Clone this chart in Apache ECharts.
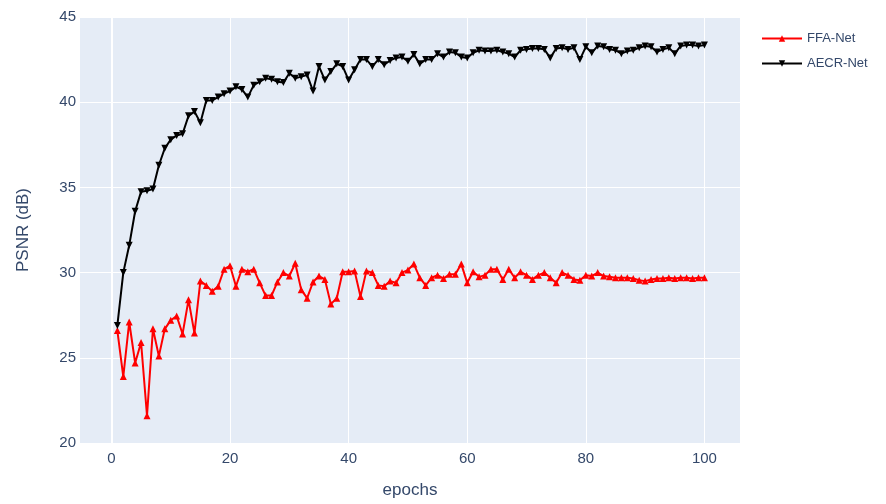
<!DOCTYPE html>
<html>
<head>
<meta charset="utf-8">
<script src="https://cdn.jsdelivr.net/npm/echarts@6/dist/echarts.min.js"></script>
<style>html,body{margin:0;padding:0;background:#fff}#chart{width:886px;height:504px}</style>
</head>
<body>
<div id="chart"></div>
<script>
const epochs = [];
for (let i = 1; i <= 100; i++) epochs.push(i);

const ffaNet = [26.6,23.9,27.1,24.7,25.9,21.6,26.7,25.1,26.7,27.2,
27.45,26.4,28.4,26.45,29.5,29.25,28.9,29.2,30.2,30.4,
29.2,30.2,30.05,30.2,29.4,28.65,28.65,29.45,30.0,29.8,
30.55,29.0,28.5,29.45,29.8,29.6,28.15,28.5,30.05,30.05,
30.1,28.6,30.1,30.0,29.25,29.2,29.5,29.4,30.0,30.15,
30.5,29.7,29.25,29.7,29.85,29.65,29.9,29.9,30.5,29.4,
30.05,29.75,29.85,30.2,30.2,29.6,30.2,29.7,30.05,29.85,
29.6,29.85,30.0,29.7,29.4,30.0,29.85,29.6,29.55,29.85,
29.8,30.0,29.8,29.75,29.7,29.7,29.7,29.65,29.55,29.5,
29.6,29.65,29.65,29.7,29.65,29.7,29.7,29.65,29.7,29.7];

const aecrNet = [26.9,30.0,31.6,33.6,34.75,34.8,34.9,36.3,37.3,37.8,
38.05,38.15,39.2,39.45,38.8,40.1,40.1,40.3,40.5,40.65,
40.9,40.75,40.3,41.0,41.2,41.4,41.35,41.2,41.15,41.7,
41.4,41.5,41.6,40.65,42.1,41.3,41.8,42.25,42.1,41.3,
41.9,42.5,42.5,42.1,42.5,42.2,42.45,42.6,42.65,42.4,
42.8,42.25,42.5,42.5,42.85,42.65,42.95,42.9,42.65,42.6,
42.9,43.05,43.0,43.0,43.05,42.95,42.85,42.65,43.05,43.1,
43.15,43.15,43.1,42.6,43.15,43.2,43.1,43.2,42.5,43.25,
42.9,43.3,43.25,43.1,43.05,42.85,43.0,43.05,43.2,43.3,
43.25,42.95,43.1,43.2,42.85,43.3,43.35,43.35,43.3,43.35];

const xTicks = [0, 20, 40, 60, 80, 100];
const yTicks = [20, 25, 30, 35, 40, 45];

const FONT = '"Liberation Sans", Arial, sans-serif';
const TXT = '#34486a';

const chart = echarts.init(document.getElementById('chart'));
chart.setOption({
  animation: false,
  backgroundColor: '#ffffff',
  textStyle: { fontFamily: FONT },
  grid: {
    left: 80, right: 146, top: 17, bottom: 60,
    show: true, backgroundColor: '#E5ECF6', borderWidth: 0
  },
  legend: {
    orient: 'vertical',
    left: 756, top: 27,
    itemWidth: 40, itemHeight: 8, itemGap: 12,
    textStyle: { fontFamily: FONT, fontSize: 13, color: TXT },
    data: ['FFA-Net', 'AECR-Net']
  },
  xAxis: {
    type: 'value',
    min: -5.3, max: 106,
    name: 'epochs',
    nameLocation: 'middle',
    nameGap: 39,
    nameTextStyle: { fontFamily: FONT, fontSize: 17, color: TXT },
    axisLine: { show: false },
    axisTick: { show: false, customValues: xTicks },
    axisLabel: { customValues: xTicks, fontFamily: FONT, fontSize: 15, color: TXT, margin: 8 },
    splitLine: { show: true, lineStyle: { color: '#ffffff', width: 1 } }
  },
  yAxis: {
    type: 'value',
    min: 20, max: 45, interval: 5,
    name: 'PSNR (dB)',
    nameLocation: 'middle',
    nameGap: 48,
    nameTextStyle: { fontFamily: FONT, fontSize: 17, color: TXT },
    axisLine: { show: false },
    axisTick: { show: false },
    axisLabel: { fontFamily: FONT, fontSize: 15, color: TXT, margin: 4 },
    splitLine: { show: true, lineStyle: { color: '#ffffff', width: 1 } }
  },
  series: [
    {
      name: 'FFA-Net',
      type: 'line',
      data: epochs.map((e, i) => [e, ffaNet[i]]),
      color: '#ff0000',
      lineStyle: { width: 2, color: '#ff0000' },
      symbol: 'triangle',
      symbolSize: 7,
      showAllSymbol: true,
      itemStyle: { color: '#ff0000' },
      markLine: {
        silent: true, symbol: 'none', label: { show: false },
        lineStyle: { color: '#ffffff', width: 2, type: 'solid' },
        data: [{ xAxis: 0 }],
        z: 1
      }
    },
    {
      name: 'AECR-Net',
      type: 'line',
      data: epochs.map((e, i) => [e, aecrNet[i]]),
      color: '#000000',
      lineStyle: { width: 2, color: '#000000' },
      symbol: 'triangle',
      symbolRotate: 180,
      symbolSize: 7,
      showAllSymbol: true,
      itemStyle: { color: '#000000' }
    }
  ]
});
</script>
</body>
</html>
